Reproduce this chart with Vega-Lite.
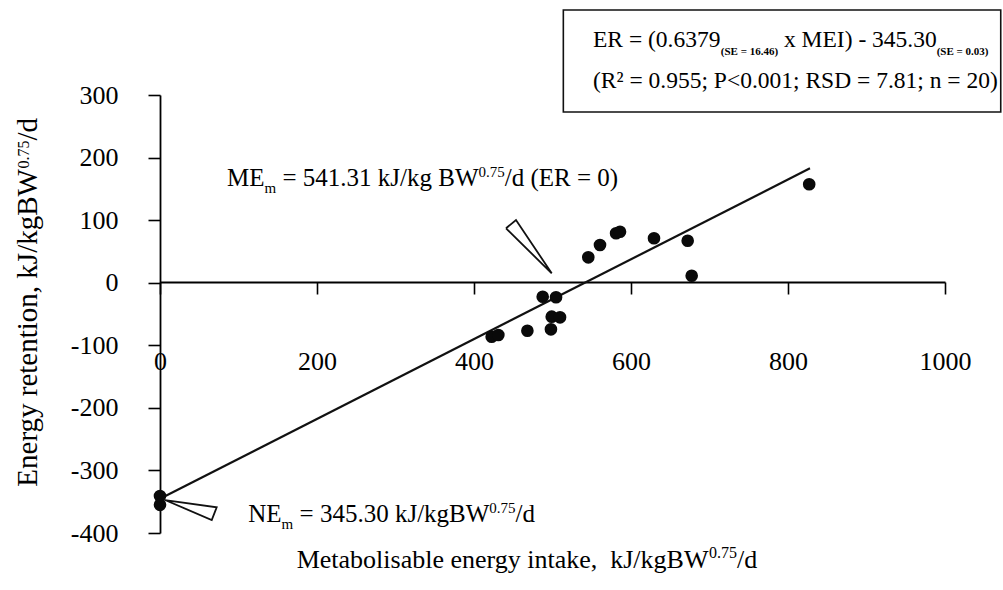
{
  "$schema": "https://vega.github.io/schema/vega-lite/v6.json",
  "width": 785,
  "height": 438,
  "autosize": {"type": "none"},
  "padding": {"left": 160, "top": 95, "right": 58, "bottom": 57},
  "background": "white",
  "config": {
    "view": {"stroke": null},
    "axis": {
      "labelFont": "Liberation Serif",
      "labelFontSize": 26,
      "labelColor": "#000",
      "tickColor": "#000",
      "domainColor": "#000",
      "tickSize": 12,
      "tickWidth": 1.6,
      "domainWidth": 1.8,
      "grid": false,
      "title": null,
      "labelOverlap": false,
      "labelBound": false,
      "labelExpr": "datum.value + ''"
    }
  },
  "datasets": {
    "box": [{"x1": 513.8, "x2": 1071, "y1": 272.8, "y2": 435.8}],
    "fit": [{"x": 0, "y": -345.3}, {"x": 828, "y": 182.9}],
    "obs": [
      {"x": 0, "y": -341}, {"x": 0, "y": -355},
      {"x": 422.5, "y": -86.3}, {"x": 431, "y": -83.6},
      {"x": 468, "y": -76.7}, {"x": 487.5, "y": -22.4},
      {"x": 504.5, "y": -23.3}, {"x": 499, "y": -54.3},
      {"x": 509.6, "y": -55.3}, {"x": 498, "y": -74.5},
      {"x": 545.6, "y": 40.6}, {"x": 560.5, "y": 60.3},
      {"x": 581, "y": 79}, {"x": 586, "y": 81.5},
      {"x": 629.3, "y": 71}, {"x": 672.2, "y": 67.1},
      {"x": 677.3, "y": 11.2}, {"x": 827, "y": 157.3}
    ],
    "wedge": [
      {"w": "a", "i": 0, "x": 440.8, "y": 87}, {"w": "a", "i": 1, "x": 453.5, "y": 100.2},
      {"w": "a", "i": 2, "x": 499, "y": 15}, {"w": "a", "i": 3, "x": 440.8, "y": 87},
      {"w": "b", "i": 0, "x": 6.4, "y": -347.3}, {"w": "b", "i": 1, "x": 72.2, "y": -359},
      {"w": "b", "i": 2, "x": 65.9, "y": -379.2}, {"w": "b", "i": 3, "x": 6.4, "y": -347.3}
    ],
    "annot": [
      {"x": 85.35, "y": 154.6, "t": "ME"},
      {"x": 156.0, "y": 154.6, "t": "= 541.31 kJ/kg BW"},
      {"x": 439.2, "y": 154.6, "t": "/d (ER = 0)"},
      {"x": 112.5, "y": -381.9, "t": "NE"},
      {"x": 177.8, "y": -381.9, "t": "= 345.30 kJ/kgBW"},
      {"x": 453.0, "y": -381.9, "t": "/d"}
    ],
    "annotSmall": [
      {"x": 133.1, "y": 142.9, "t": "m"},
      {"x": 405.7, "y": 168.9, "t": "0.75"},
      {"x": 154.9, "y": -394.1, "t": "m"},
      {"x": 419.5, "y": -367.6, "t": "0.75"}
    ],
    "boxText": [
      {"x": 551.6, "y": 377.2, "t": "ER = (0.6379"},
      {"x": 794.9, "y": 377.2, "t": "x MEI) - 345.30"},
      {"x": 551.6, "y": 311.2, "t": "(R² = 0.955; P<0.001; RSD = 7.81; n = 20)"}
    ],
    "boxSE": [
      {"x": 714.4, "y": 363.9, "t": "(SE = 16.46)"},
      {"x": 989.4, "y": 363.9, "t": "(SE = 0.03)"}
    ],
    "xTitle": [
      {"x": 174.1, "y": -456, "t": "Metabolisable energy intake,\u00a0 kJ/kgBW"},
      {"x": 735.0, "y": -456, "t": "/d"}
    ],
    "xTitleSup": [{"x": 699.4, "y": -440, "t": "0.75"}],
    "yTitle": [
      {"x": -156.7, "y": -326.0, "t": "Energy retention, kJ/kgBW"},
      {"x": -156.7, "y": 227.3, "t": "/d"}
    ],
    "yTitleSup": [{"x": -166.9, "y": 182.5, "t": "0.75"}]
  },
  "encoding": {
    "x": {
      "field": "x", "type": "quantitative",
      "scale": {"domain": [0, 1000], "nice": false, "zero": false},
      "axis": {
        "values": [0, 200, 400, 600, 800, 1000],
        "offset": -251,
        "labelPadding": 54,
        "labelFlush": false
      }
    },
    "y": {
      "field": "y", "type": "quantitative",
      "scale": {"domain": [-400, 300], "nice": false, "zero": false},
      "axis": {
        "values": [-400, -300, -200, -100, 0, 100, 200, 300],
        "labelPadding": 30
      }
    }
  },
  "layer": [
    {
      "data": {"name": "box"},
      "mark": {"type": "rect", "fill": "white", "stroke": "#111", "strokeWidth": 1.6},
      "encoding": {
        "x": {"field": "x1", "type": "quantitative"},
        "x2": {"field": "x2"},
        "y": {"field": "y1", "type": "quantitative"},
        "y2": {"field": "y2"}
      }
    },
    {
      "data": {"name": "fit"},
      "mark": {"type": "line", "color": "#111", "strokeWidth": 2.2}
    },
    {
      "data": {"name": "wedge"},
      "mark": {"type": "line", "color": "#111", "strokeWidth": 1.8, "strokeJoin": "miter"},
      "encoding": {
        "detail": {"field": "w"},
        "order": {"field": "i", "type": "quantitative"}
      }
    },
    {
      "data": {"name": "obs"},
      "mark": {"type": "circle", "size": 160, "color": "#0a0a0a", "opacity": 1}
    },
    {
      "data": {"name": "annot"},
      "mark": {"type": "text", "font": "Liberation Serif", "fontSize": 25, "align": "left", "baseline": "alphabetic", "color": "#000"},
      "encoding": {"text": {"field": "t"}}
    },
    {
      "data": {"name": "annotSmall"},
      "mark": {"type": "text", "font": "Liberation Serif", "fontSize": 15, "align": "left", "baseline": "alphabetic", "color": "#000"},
      "encoding": {"text": {"field": "t"}}
    },
    {
      "data": {"name": "boxText"},
      "mark": {"type": "text", "font": "Liberation Serif", "fontSize": 23.5, "align": "left", "baseline": "alphabetic", "color": "#000"},
      "encoding": {"text": {"field": "t"}}
    },
    {
      "data": {"name": "boxSE"},
      "mark": {"type": "text", "font": "Liberation Serif", "fontSize": 11, "fontWeight": "bold", "align": "left", "baseline": "alphabetic", "color": "#000"},
      "encoding": {"text": {"field": "t"}}
    },
    {
      "data": {"name": "xTitle"},
      "mark": {"type": "text", "font": "Liberation Serif", "fontSize": 26, "align": "left", "baseline": "alphabetic", "color": "#000"},
      "encoding": {"text": {"field": "t"}}
    },
    {
      "data": {"name": "xTitleSup"},
      "mark": {"type": "text", "font": "Liberation Serif", "fontSize": 16, "align": "left", "baseline": "alphabetic", "color": "#000"},
      "encoding": {"text": {"field": "t"}}
    },
    {
      "data": {"name": "yTitle"},
      "mark": {"type": "text", "font": "Liberation Serif", "fontSize": 29, "align": "left", "baseline": "alphabetic", "angle": 270, "color": "#000"},
      "encoding": {"text": {"field": "t"}}
    },
    {
      "data": {"name": "yTitleSup"},
      "mark": {"type": "text", "font": "Liberation Serif", "fontSize": 16, "align": "left", "baseline": "alphabetic", "angle": 270, "color": "#000"},
      "encoding": {"text": {"field": "t"}}
    }
  ]
}
